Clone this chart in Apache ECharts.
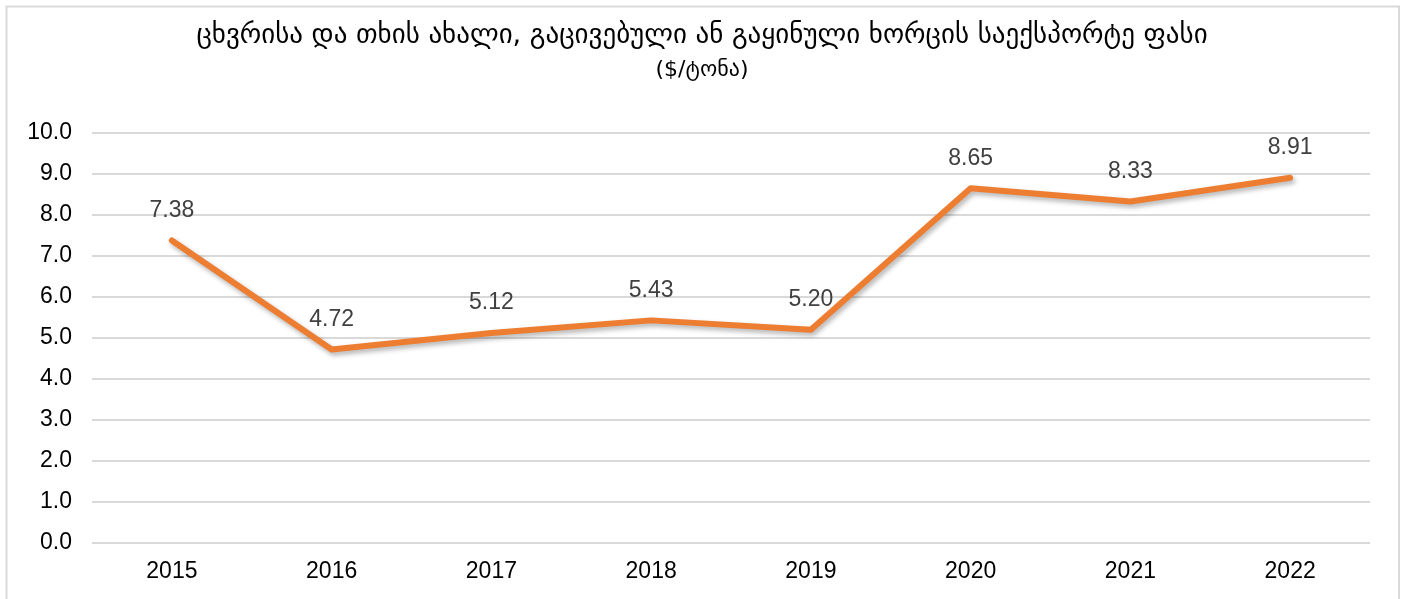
<!DOCTYPE html>
<html><head><meta charset="utf-8">
<script src="https://cdn.jsdelivr.net/npm/echarts@6/dist/echarts.min.js"></script>
<style>html,body{margin:0;padding:0;background:#fff}#c{width:1404px;height:599px}</style>
</head><body><div id="c"></div>
<script>
const titleText = 'ცხვრისა და თხის ახალი, გაცივებული ან გაყინული ხორცის საექსპორტე ფასი';
const subtitleText = '($/ტონა)';
const categories = ['2015','2016','2017','2018','2019','2020','2021','2022'];
const prices = [7.38, 4.72, 5.12, 5.43, 5.20, 8.65, 8.33, 8.91];

const chart = echarts.init(document.getElementById('c'), null, {renderer:'canvas'});
chart.setOption({
  backgroundColor:'#fff',
  animation:false,
  title:{
    text:titleText, subtext:subtitleText, left:'center', top:17, itemGap:10,
    textStyle:{fontFamily:'DejaVu Sans', fontSize:27, fontWeight:'normal', color:'#000'},
    subtextStyle:{fontFamily:'DejaVu Sans', fontSize:22, color:'#000'}
  },
  graphic:[{type:'rect', shape:{x:6.5,y:6.5,width:1392.5,height:600}, style:{fill:'none', stroke:'#d9d9d9', lineWidth:2}, silent:true}],
  grid:{left:92, right:34, top:133, bottom:56},
  xAxis:{
    type:'category', data:categories, boundaryGap:true,
    axisLine:{show:false}, axisTick:{show:false},
    axisLabel:{fontFamily:'Liberation Sans', fontSize:23, color:'#000', margin:17}
  },
  yAxis:{
    type:'value', min:0, max:10, interval:1,
    axisLine:{show:false}, axisTick:{show:false},
    splitLine:{lineStyle:{color:'#d9d9d9', width:2}},
    axisLabel:{fontFamily:'Liberation Sans', fontSize:23, color:'#000', margin:20, formatter:v=>v.toFixed(1)}
  },
  series:[{
    type:'line', data:prices, symbol:'circle', symbolSize:1, showSymbol:true,
    itemStyle:{color:'#ED7D31'},
    lineStyle:{color:'#ED7D31', width:6, cap:'round', join:'round', shadowColor:'rgba(0,0,0,0.3)', shadowBlur:5, shadowOffsetX:2, shadowOffsetY:3},
    label:{show:true, position:'top', distance:18, fontFamily:'Liberation Sans', fontSize:23, color:'#404040', formatter:p=>p.value.toFixed(2)}
  }]
});
</script></body></html>
